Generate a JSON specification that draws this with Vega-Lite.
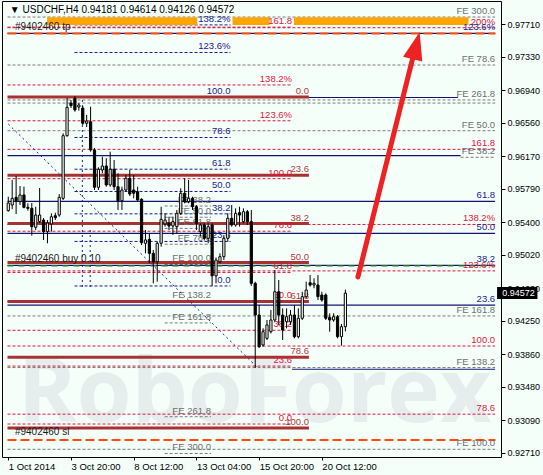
{
  "$schema": "https://vega.github.io/schema/vega-lite/v6.json",
  "width": 499,
  "height": 456,
  "autosize": {"type": "none"},
  "padding": {"left": 2, "top": 1, "right": 42, "bottom": 18},
  "background": "#f5fffa",
  "config": {
    "view": {"stroke": "#000000", "strokeWidth": 1, "fill": "#f5fffa"},
    "axis": {"grid": false, "domain": false, "labelFont": "Liberation Sans", "labelFontSize": 9, "labelColor": "#000000", "tickColor": "#000000", "title": null, "labelOverlap": false, "labelFlush": false}
  },
  "datasets": {
    "candles": [
      {"i":0,"o":0.95535,"h":0.95698,"l":0.95523,"c":0.95624},
      {"i":1,"o":0.95601,"h":0.95893,"l":0.95551,"c":0.95679},
      {"i":2,"o":0.95691,"h":0.95939,"l":0.95496,"c":0.95651},
      {"i":3,"o":0.95640,"h":0.95823,"l":0.95601,"c":0.95718},
      {"i":4,"o":0.95718,"h":0.95815,"l":0.95562,"c":0.95574},
      {"i":5,"o":0.95574,"h":0.95621,"l":0.95535,"c":0.95562},
      {"i":6,"o":0.95562,"h":0.95624,"l":0.95243,"c":0.95348},
      {"i":7,"o":0.95341,"h":0.95581,"l":0.95309,"c":0.95484},
      {"i":8,"o":0.95407,"h":0.95799,"l":0.95391,"c":0.95484},
      {"i":9,"o":0.95426,"h":0.95449,"l":0.95193,"c":0.95290},
      {"i":10,"o":0.95290,"h":0.95426,"l":0.95154,"c":0.95391},
      {"i":11,"o":0.95380,"h":0.95504,"l":0.95290,"c":0.95464},
      {"i":12,"o":0.95476,"h":0.95511,"l":0.95426,"c":0.95453},
      {"i":13,"o":0.95484,"h":0.95729,"l":0.95464,"c":0.95691},
      {"i":14,"o":0.95679,"h":0.96438,"l":0.95659,"c":0.96410},
      {"i":15,"o":0.96410,"h":0.96850,"l":0.96398,"c":0.96741},
      {"i":16,"o":0.96791,"h":0.96827,"l":0.96733,"c":0.96760},
      {"i":17,"o":0.96846,"h":0.96873,"l":0.96690,"c":0.96710},
      {"i":18,"o":0.96745,"h":0.96791,"l":0.96702,"c":0.96768},
      {"i":19,"o":0.96733,"h":0.96756,"l":0.96535,"c":0.96555},
      {"i":20,"o":0.96555,"h":0.96652,"l":0.96511,"c":0.96581},
      {"i":21,"o":0.96573,"h":0.96748,"l":0.96223,"c":0.96243},
      {"i":22,"o":0.96243,"h":0.96266,"l":0.95776,"c":0.95808},
      {"i":23,"o":0.95808,"h":0.96041,"l":0.95776,"c":0.96018},
      {"i":24,"o":0.96010,"h":0.96165,"l":0.95971,"c":0.96056},
      {"i":25,"o":0.96056,"h":0.96146,"l":0.95815,"c":0.95835},
      {"i":26,"o":0.95835,"h":0.96223,"l":0.95815,"c":0.96018},
      {"i":27,"o":0.96018,"h":0.96126,"l":0.95776,"c":0.95815},
      {"i":28,"o":0.95815,"h":0.95971,"l":0.95543,"c":0.95651},
      {"i":29,"o":0.95651,"h":0.95815,"l":0.95543,"c":0.95776},
      {"i":30,"o":0.95776,"h":0.95951,"l":0.95756,"c":0.95913},
      {"i":31,"o":0.95913,"h":0.96010,"l":0.95706,"c":0.95729},
      {"i":32,"o":0.95776,"h":0.95951,"l":0.95679,"c":0.95738},
      {"i":33,"o":0.95756,"h":0.95815,"l":0.95651,"c":0.95659},
      {"i":34,"o":0.95668,"h":0.95679,"l":0.95134,"c":0.95161},
      {"i":35,"o":0.95154,"h":0.95309,"l":0.95037,"c":0.95193},
      {"i":36,"o":0.95201,"h":0.95271,"l":0.94921,"c":0.95037},
      {"i":37,"o":0.95037,"h":0.95076,"l":0.94687,"c":0.94939},
      {"i":38,"o":0.94939,"h":0.95173,"l":0.94706,"c":0.95154},
      {"i":39,"o":0.95154,"h":0.95581,"l":0.95115,"c":0.95434},
      {"i":40,"o":0.95380,"h":0.95504,"l":0.95348,"c":0.95426},
      {"i":41,"o":0.95388,"h":0.95465,"l":0.95309,"c":0.95356},
      {"i":42,"o":0.95356,"h":0.95465,"l":0.95251,"c":0.95407},
      {"i":43,"o":0.95348,"h":0.95543,"l":0.95271,"c":0.95504},
      {"i":44,"o":0.95504,"h":0.95796,"l":0.95484,"c":0.95738},
      {"i":45,"o":0.95738,"h":0.95913,"l":0.95621,"c":0.95640},
      {"i":46,"o":0.95640,"h":0.95893,"l":0.95621,"c":0.95679},
      {"i":47,"o":0.95679,"h":0.95698,"l":0.95543,"c":0.95581},
      {"i":48,"o":0.95581,"h":0.95601,"l":0.95309,"c":0.95388},
      {"i":49,"o":0.95290,"h":0.95388,"l":0.95231,"c":0.95368},
      {"i":50,"o":0.95368,"h":0.95388,"l":0.95193,"c":0.95212},
      {"i":51,"o":0.95212,"h":0.95388,"l":0.95154,"c":0.95348},
      {"i":52,"o":0.95368,"h":0.95388,"l":0.94657,"c":0.94774},
      {"i":53,"o":0.94774,"h":0.94988,"l":0.94687,"c":0.94959},
      {"i":54,"o":0.94939,"h":0.95037,"l":0.94921,"c":0.94998},
      {"i":55,"o":0.94998,"h":0.95251,"l":0.94959,"c":0.95212},
      {"i":56,"o":0.95212,"h":0.95504,"l":0.95173,"c":0.95446},
      {"i":57,"o":0.95446,"h":0.95601,"l":0.95348,"c":0.95368},
      {"i":58,"o":0.95368,"h":0.95562,"l":0.95348,"c":0.95504},
      {"i":59,"o":0.95511,"h":0.95581,"l":0.95348,"c":0.95484},
      {"i":60,"o":0.95407,"h":0.95562,"l":0.95388,"c":0.95523},
      {"i":61,"o":0.95523,"h":0.95543,"l":0.95368,"c":0.95407},
      {"i":62,"o":0.95407,"h":0.95543,"l":0.94657,"c":0.94687},
      {"i":63,"o":0.94687,"h":0.94706,"l":0.93699,"c":0.94317},
      {"i":64,"o":0.94317,"h":0.94434,"l":0.93932,"c":0.93947},
      {"i":65,"o":0.93967,"h":0.94162,"l":0.93947,"c":0.94122},
      {"i":66,"o":0.94045,"h":0.94259,"l":0.94025,"c":0.94201},
      {"i":67,"o":0.94122,"h":0.94376,"l":0.94103,"c":0.94259},
      {"i":68,"o":0.94259,"h":0.94842,"l":0.94239,"c":0.94589},
      {"i":69,"o":0.94589,"h":0.94726,"l":0.94201,"c":0.94317},
      {"i":70,"o":0.94317,"h":0.94395,"l":0.94025,"c":0.94142},
      {"i":71,"o":0.94239,"h":0.94395,"l":0.94162,"c":0.94297},
      {"i":72,"o":0.94239,"h":0.94376,"l":0.94201,"c":0.94317},
      {"i":73,"o":0.94317,"h":0.94434,"l":0.94045,"c":0.94064},
      {"i":74,"o":0.94064,"h":0.94395,"l":0.94045,"c":0.94279},
      {"i":75,"o":0.94279,"h":0.94589,"l":0.94259,"c":0.94531},
      {"i":76,"o":0.94531,"h":0.94706,"l":0.94512,"c":0.94609},
      {"i":77,"o":0.94694,"h":0.94784,"l":0.94648,"c":0.94667},
      {"i":78,"o":0.94667,"h":0.94745,"l":0.94629,"c":0.94687},
      {"i":79,"o":0.94667,"h":0.94784,"l":0.94492,"c":0.94531},
      {"i":80,"o":0.94551,"h":0.94589,"l":0.94473,"c":0.94492},
      {"i":81,"o":0.94551,"h":0.94570,"l":0.94259,"c":0.94279},
      {"i":82,"o":0.94290,"h":0.94337,"l":0.94122,"c":0.94259},
      {"i":83,"o":0.94259,"h":0.94337,"l":0.94239,"c":0.94297},
      {"i":84,"o":0.94297,"h":0.94317,"l":0.94045,"c":0.94064},
      {"i":85,"o":0.94064,"h":0.94212,"l":0.93959,"c":0.94181},
      {"i":86,"o":0.94181,"h":0.94614,"l":0.94126,"c":0.94572}
    ],
    "levels": [
      {"set":"FE","label":"FE 300.0","p":0.97795,"x1":-0.2,"x2":124.2},
      {"set":"FE","label":"FE 78.6","p":0.97235,"x1":-0.2,"x2":124.2},
      {"set":"FE","label":"FE 261.8","p":0.96827,"x1":-0.2,"x2":124.2},
      {"set":"FE","label":"","p":0.96791,"x1":-0.2,"x2":124.2},
      {"set":"FE","label":"FE 50.0","p":0.96468,"x1":-0.2,"x2":124.2},
      {"set":"FE","label":"FE 38.2","p":0.96158,"x1":115.4,"x2":124.2},
      {"set":"FE","label":"FE 161.8","p":0.94306,"x1":-0.2,"x2":124.2},
      {"set":"FE","label":"FE 138.2","p":0.93704,"x1":-0.2,"x2":124.2},
      {"set":"FE","label":"FE 100.0","p":0.92750,"x1":-0.2,"x2":124.2},
      {"set":"FEm","label":"FE 38.2","p":0.95589,"x1":39.9,"x2":51.7},
      {"set":"FEm","label":"FE 50.0","p":0.95458,"x1":39.9,"x2":51.7},
      {"set":"FEm","label":"FE 61.8","p":0.95328,"x1":39.9,"x2":51.7},
      {"set":"FEm","label":"FE 78.6","p":0.95143,"x1":39.9,"x2":51.7},
      {"set":"FEm","label":"FE 100.0","p":0.94907,"x1":39.9,"x2":51.7},
      {"set":"FEm","label":"FE 138.2","p":0.94486,"x1":39.9,"x2":51.7},
      {"set":"FEm","label":"FE 161.8","p":0.94225,"x1":39.9,"x2":51.7},
      {"set":"FEm","label":"FE 261.8","p":0.93130,"x1":39.9,"x2":51.7},
      {"set":"FEm","label":"FE 300.0","p":0.92701,"x1":39.9,"x2":51.7},
      {"set":"A","label":"200%","p":0.97670,"x1":-0.2,"x2":124.2},
      {"set":"A","label":"161.8","p":0.96251,"x1":-0.2,"x2":124.2},
      {"set":"A","label":"138.2%","p":0.95374,"x1":-0.2,"x2":124.2},
      {"set":"A","label":"123.6%","p":0.94832,"x1":-0.2,"x2":124.2},
      {"set":"A","label":"100.0","p":0.93955,"x1":-0.2,"x2":124.2},
      {"set":"A","label":"78.6","p":0.93160,"x1":-0.2,"x2":124.2},
      {"set":"B","label":"161.8","p":0.97677,"x1":-0.2,"x2":72.4},
      {"set":"B","label":"138.2%","p":0.97002,"x1":-0.2,"x2":72.4},
      {"set":"B","label":"123.6%","p":0.96584,"x1":-0.2,"x2":72.4},
      {"set":"B","label":"100.0","p":0.95908,"x1":-0.2,"x2":72.4},
      {"set":"B","label":"78.6","p":0.95295,"x1":-0.2,"x2":72.4},
      {"set":"B","label":"61.8","p":0.94814,"x1":-0.2,"x2":72.4},
      {"set":"B","label":"50.0","p":0.94477,"x1":-0.2,"x2":72.4},
      {"set":"B","label":"38.2","p":0.94139,"x1":-0.2,"x2":72.4},
      {"set":"B","label":"23.6","p":0.93721,"x1":-0.2,"x2":72.4},
      {"set":"B","label":"0.0","p":0.93045,"x1":-0.2,"x2":72.4},
      {"set":"D","label":"138.2%","p":0.97703,"x1":16.9,"x2":56.7},
      {"set":"D","label":"123.6%","p":0.97381,"x1":16.9,"x2":56.7},
      {"set":"D","label":"100.0","p":0.96861,"x1":16.9,"x2":56.7},
      {"set":"D","label":"78.6","p":0.96389,"x1":16.9,"x2":56.7},
      {"set":"D","label":"61.8","p":0.96019,"x1":16.9,"x2":56.7},
      {"set":"D","label":"50.0","p":0.95759,"x1":16.9,"x2":56.7},
      {"set":"D","label":"38.2","p":0.95498,"x1":16.9,"x2":56.7},
      {"set":"D","label":"23.6","p":0.95176,"x1":16.9,"x2":56.7},
      {"set":"D","label":"0.0","p":0.94656,"x1":16.9,"x2":56.7},
      {"set":"N","label":"123.6%","p":0.97605,"x1":-0.2,"x2":124.2},
      {"set":"N","label":"","p":0.96856,"x1":76.7,"x2":114.7},
      {"set":"N","label":"","p":0.96177,"x1":-0.2,"x2":115.4},
      {"set":"N","label":"61.8","p":0.95644,"x1":-0.2,"x2":124.2},
      {"set":"N","label":"50.0","p":0.95270,"x1":-0.2,"x2":124.2},
      {"set":"N","label":"38.2","p":0.94896,"x1":-0.2,"x2":124.2},
      {"set":"N","label":"23.6","p":0.94433,"x1":-0.2,"x2":124.2},
      {"set":"N","label":"","p":0.93684,"x1":72.4,"x2":124.2},
      {"set":"buy","label":"","p":0.94893,"x1":-0.2,"x2":124.2},
      {"set":"C","label":"0.0","p":0.96861,"x1":-0.2,"x2":76.7},
      {"set":"C","label":"23.6","p":0.95949,"x1":-0.2,"x2":76.7},
      {"set":"C","label":"38.2","p":0.95385,"x1":-0.2,"x2":76.7},
      {"set":"C","label":"50.0","p":0.94930,"x1":-0.2,"x2":76.7},
      {"set":"C","label":"61.8","p":0.94474,"x1":-0.2,"x2":76.7},
      {"set":"C","label":"78.6","p":0.93825,"x1":-0.2,"x2":76.7},
      {"set":"C","label":"100.0","p":0.92998,"x1":-0.2,"x2":76.7},
      {"set":"tp","label":"","p":0.97603,"x1":-0.2,"x2":124.3},
      {"set":"sl","label":"","p":0.92858,"x1":-0.2,"x2":124.3}
    ],
    "zone": [
      {"x1":9.9,"x2":48.2,"p1":0.97792,"p2":0.97702},
      {"x1":57.2,"x2":66.7,"p1":0.97792,"p2":0.97702},
      {"x1":72.9,"x2":117.4,"p1":0.97792,"p2":0.97702}
    ],
    "trend": [
      {"x1":0,"p1":0.96546,"x2":63.7,"p2":0.93699},
      {"x1":18.9,"p1":0.96827,"x2":18.9,"p2":0.94609},
      {"x1":20.9,"p1":0.95309,"x2":20.9,"p2":0.94609}
    ],
    "orders": [
      {"t":"#9402460 tp","x":1.7,"p":0.97620},
      {"t":"#9402460 buy 0.10","x":1.7,"p":0.94912},
      {"t":"#9402460 sl","x":1.7,"p":0.92893}
    ]
  },
  "layer": [
    {
      "data": {"values": [{"t":"RoboForex","x":2.4,"p":0.93068}]},
      "mark": {"type":"text","align":"left","baseline":"alphabetic","font":"Open Sans","fontSize":89,"fontWeight":"bold","color":"#e5eded","clip":true},
      "encoding": {
        "x": {"field":"x","type":"quantitative","scale":{"domain":[-0.325,124.425],"nice":false,"zero":false},
              "axis":{"values":[0,16,32,48,64,80],"tickCount":40,"labelExpr":"['1 Oct 2014','3 Oct 20:00','8 Oct 12:00','13 Oct 04:00','15 Oct 20:00','20 Oct 12:00'][round(datum.value/16)]","labelAlign":"left","labelPadding":1,"tickSize":3,"labelFontSize":9.5,"labelBaseline":"top","labelFlush":false,"labelOverlap":false}},
        "y": {"field":"p","type":"quantitative","scale":{"domain":[0.9266,0.97982],"nice":false,"zero":false},
              "axis":{"orient":"right","values":[0.9271,0.9309,0.9348,0.9386,0.9425,0.9463,0.9502,0.954,0.9579,0.9617,0.9656,0.9694,0.9733,0.9771],"tickCount":40,"format":".5f","labelAlign":"left","tickSize":4,"labelPadding":2,"labelBaseline":"middle","labelOverlap":false,"labelFlush":false}},
        "text": {"field":"t"}
      }
    },
    {
      "data": {"name":"levels"},
      "transform": [{"filter":"datum.set == 'FE' || datum.set == 'FEm'"}],
      "mark": {"type":"rule","color":"#7a7a7a","strokeWidth":1,"strokeDash":[3,2]},
      "encoding": {
        "x": {"field":"x1","type":"quantitative","scale":{"domain":[-0.325,124.425],"nice":false,"zero":false}},
        "x2": {"field":"x2"},
        "y": {"field":"p","type":"quantitative","scale":{"domain":[0.9266,0.97982],"nice":false,"zero":false}}
      }
    },
    {
      "data": {"name":"levels"},
      "transform": [{"filter":"datum.set == 'A' || datum.set == 'B'"}],
      "mark": {"type":"rule","color":"#e0143c","strokeWidth":1,"strokeDash":[3,2]},
      "encoding": {
        "x": {"field":"x1","type":"quantitative","scale":{"domain":[-0.325,124.425],"nice":false,"zero":false}},
        "x2": {"field":"x2"},
        "y": {"field":"p","type":"quantitative","scale":{"domain":[0.9266,0.97982],"nice":false,"zero":false}}
      }
    },
    {
      "data": {"name":"levels"},
      "transform": [{"filter":"datum.set == 'D'"}],
      "mark": {"type":"rule","color":"#1a1a8c","strokeWidth":1,"strokeDash":[3,2]},
      "encoding": {
        "x": {"field":"x1","type":"quantitative","scale":{"domain":[-0.325,124.425],"nice":false,"zero":false}},
        "x2": {"field":"x2"},
        "y": {"field":"p","type":"quantitative","scale":{"domain":[0.9266,0.97982],"nice":false,"zero":false}}
      }
    },
    {
      "data": {"name":"levels"},
      "transform": [{"filter":"datum.set == 'N'"}],
      "mark": {"type":"rule","color":"#141470","strokeWidth":1.2},
      "encoding": {
        "x": {"field":"x1","type":"quantitative","scale":{"domain":[-0.325,124.425],"nice":false,"zero":false}},
        "x2": {"field":"x2"},
        "y": {"field":"p","type":"quantitative","scale":{"domain":[0.9266,0.97982],"nice":false,"zero":false}}
      }
    },
    {
      "data": {"name":"levels"},
      "transform": [{"filter":"datum.set == 'buy'"}],
      "mark": {"type":"rule","color":"#1e7a1e","strokeWidth":1.5,"strokeDash":[6,5]},
      "encoding": {
        "x": {"field":"x1","type":"quantitative","scale":{"domain":[-0.325,124.425],"nice":false,"zero":false}},
        "x2": {"field":"x2"},
        "y": {"field":"p","type":"quantitative","scale":{"domain":[0.9266,0.97982],"nice":false,"zero":false}}
      }
    },
    {
      "data": {"name":"levels"},
      "transform": [{"filter":"datum.set == 'C'"}],
      "mark": {"type":"rule","color":"#a83232","strokeWidth":3},
      "encoding": {
        "x": {"field":"x1","type":"quantitative","scale":{"domain":[-0.325,124.425],"nice":false,"zero":false}},
        "x2": {"field":"x2"},
        "y": {"field":"p","type":"quantitative","scale":{"domain":[0.9266,0.97982],"nice":false,"zero":false}}
      }
    },
    {
      "data": {"name":"levels"},
      "transform": [{"filter":"datum.set == 'tp' || datum.set == 'sl'"}],
      "mark": {"type":"rule","color":"#ff4a10","strokeWidth":2,"strokeDash":[9,4]},
      "encoding": {
        "x": {"field":"x1","type":"quantitative","scale":{"domain":[-0.325,124.425],"nice":false,"zero":false}},
        "x2": {"field":"x2"},
        "y": {"field":"p","type":"quantitative","scale":{"domain":[0.9266,0.97982],"nice":false,"zero":false}}
      }
    },
    {
      "data": {"name":"zone"},
      "mark": {"type":"rect","color":"#ffa500"},
      "encoding": {
        "x": {"field":"x1","type":"quantitative","scale":{"domain":[-0.325,124.425],"nice":false,"zero":false}},
        "x2": {"field":"x2"},
        "y": {"field":"p1","type":"quantitative","scale":{"domain":[0.9266,0.97982],"nice":false,"zero":false}},
        "y2": {"field":"p2"}
      }
    },
    {
      "data": {"name":"levels"},
      "transform": [{"filter":"datum.label != ''"}],
      "mark": {"type":"text","align":"right","baseline":"bottom","dy":-1,"font":"Liberation Sans","fontSize":9.5},
      "encoding": {
        "x": {"field":"x2","type":"quantitative","scale":{"domain":[-0.325,124.425],"nice":false,"zero":false}},
        "y": {"field":"p","type":"quantitative","scale":{"domain":[0.9266,0.97982],"nice":false,"zero":false}},
        "text": {"field":"label"},
        "color": {"field":"set","type":"nominal","legend":null,
                  "scale":{"domain":["FE","FEm","A","B","D","N","C","buy","tp","sl"],"range":["#6e6e6e","#6e6e6e","#e0143c","#e0143c","#1a1a8c","#1a1a8c","#b03a3a","#1e7a1e","#ff4a10","#ff4a10"]}}
      }
    },
    {
      "data": {"name":"trend"},
      "mark": {"type":"rule","color":"#1a1a8c","strokeWidth":1,"strokeDash":[2,3]},
      "encoding": {
        "x": {"field":"x1","type":"quantitative","scale":{"domain":[-0.325,124.425],"nice":false,"zero":false}},
        "x2": {"field":"x2"},
        "y": {"field":"p1","type":"quantitative","scale":{"domain":[0.9266,0.97982],"nice":false,"zero":false}},
        "y2": {"field":"p2"}
      }
    },
    {
      "data": {"name":"candles"},
      "mark": {"type":"rule","color":"#000000","strokeWidth":1},
      "encoding": {
        "x": {"field":"i","type":"quantitative","scale":{"domain":[-0.325,124.425],"nice":false,"zero":false}},
        "y": {"field":"l","type":"quantitative","scale":{"domain":[0.9266,0.97982],"nice":false,"zero":false}},
        "y2": {"field":"h"}
      }
    },
    {
      "data": {"name":"candles"},
      "mark": {"type":"bar","size":2.2,"stroke":"#000000","strokeWidth":1},
      "encoding": {
        "x": {"field":"i","type":"quantitative","scale":{"domain":[-0.325,124.425],"nice":false,"zero":false}},
        "y": {"field":"o","type":"quantitative","scale":{"domain":[0.9266,0.97982],"nice":false,"zero":false}},
        "y2": {"field":"c"},
        "fill": {"condition":{"test":"datum.c >= datum.o","value":"#ffffff"},"value":"#000000"}
      }
    },
    {
      "data": {"name":"orders"},
      "mark": {"type":"text","align":"left","baseline":"bottom","font":"Liberation Sans","fontSize":10,"color":"#1a1a1a"},
      "encoding": {
        "x": {"field":"x","type":"quantitative","scale":{"domain":[-0.325,124.425],"nice":false,"zero":false}},
        "y": {"field":"p","type":"quantitative","scale":{"domain":[0.9266,0.97982],"nice":false,"zero":false}},
        "text": {"field":"t"}
      }
    },
    {
      "data": {"values": [{"t":"▼  USDCHF,H4  0.94181 0.94614 0.94126 0.94572","x":0.4,"p":0.97877}]},
      "mark": {"type":"text","align":"left","baseline":"middle","font":"Liberation Sans","fontSize":10,"color":"#000000"},
      "encoding": {
        "x": {"field":"x","type":"quantitative","scale":{"domain":[-0.325,124.425],"nice":false,"zero":false}},
        "y": {"field":"p","type":"quantitative","scale":{"domain":[0.9266,0.97982],"nice":false,"zero":false}},
        "text": {"field":"t"}
      }
    },
    {
      "data": {"values": [{"x1":89.2,"p1":0.94761,"x2":103.2,"p2":0.97317}]},
      "mark": {"type":"rule","color":"#ee2222","strokeWidth":5,"strokeCap":"round"},
      "encoding": {
        "x": {"field":"x1","type":"quantitative","scale":{"domain":[-0.325,124.425],"nice":false,"zero":false}},
        "x2": {"field":"x2"},
        "y": {"field":"p1","type":"quantitative","scale":{"domain":[0.9266,0.97982],"nice":false,"zero":false}},
        "y2": {"field":"p2"}
      }
    },
    {
      "data": {"values": [{"x":103.9,"p":0.97434}]},
      "mark": {"type":"point","shape":"M0,-1L0.6,0.7L-0.6,0.7Z","size":1090,"filled":true,"color":"#ee2222","opacity":1,"angle":14.4},
      "encoding": {
        "x": {"field":"x","type":"quantitative","scale":{"domain":[-0.325,124.425],"nice":false,"zero":false}},
        "y": {"field":"p","type":"quantitative","scale":{"domain":[0.9266,0.97982],"nice":false,"zero":false}}
      }
    },
    {
      "data": {"values": [{"x1":124.7,"x2":135,"p1":0.94644,"p2":0.94503}]},
      "mark": {"type":"rect","color":"#000000","clip":false},
      "encoding": {
        "x": {"field":"x1","type":"quantitative","scale":{"domain":[-0.325,124.425],"nice":false,"zero":false}},
        "x2": {"field":"x2"},
        "y": {"field":"p1","type":"quantitative","scale":{"domain":[0.9266,0.97982],"nice":false,"zero":false}},
        "y2": {"field":"p2"}
      }
    },
    {
      "data": {"values": [{"t":"0.94572","x":126.0,"p":0.94572}]},
      "mark": {"type":"text","align":"left","baseline":"middle","font":"Liberation Sans","fontSize":9,"color":"#ffffff","clip":false},
      "encoding": {
        "x": {"field":"x","type":"quantitative","scale":{"domain":[-0.325,124.425],"nice":false,"zero":false}},
        "y": {"field":"p","type":"quantitative","scale":{"domain":[0.9266,0.97982],"nice":false,"zero":false}},
        "text": {"field":"t"}
      }
    }
  ]
}
